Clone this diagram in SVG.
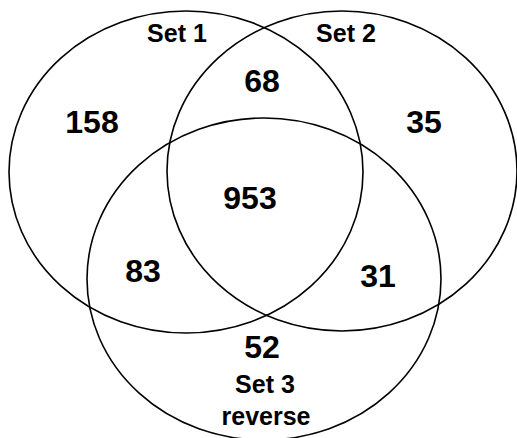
<svg xmlns="http://www.w3.org/2000/svg" width="517" height="438" viewBox="0 0 517 438">
<style>
.set{fill:none;stroke:#000;stroke-width:1.6}
.num{font-family:"Liberation Sans",Arial,sans-serif;font-weight:bold;font-size:32px;fill:#000;text-anchor:middle}
.lbl{font-family:"Liberation Sans",Arial,sans-serif;font-weight:bold;font-size:25px;fill:#000;text-anchor:middle}
</style>
<rect width="517" height="438" fill="#fff"/>
<g id="set1"><ellipse class="set" cx="186" cy="172" rx="177" ry="161"/><text class="lbl" x="177" y="42">Set 1</text></g>
<g id="set2"><ellipse class="set" cx="342" cy="171" rx="175" ry="160"/><text class="lbl" x="346" y="42">Set 2</text></g>
<g id="set3"><ellipse class="set" cx="264" cy="279" rx="177" ry="161"/><text class="lbl" x="265" y="393">Set 3</text><text class="lbl" x="266" y="425">reverse</text></g>
<g id="counts">
<text class="num" x="92" y="133">158</text>
<text class="num" x="262" y="92">68</text>
<text class="num" x="424" y="133">35</text>
<text class="num" x="250" y="209">953</text>
<text class="num" x="143" y="282">83</text>
<text class="num" x="378" y="287">31</text>
<text class="num" x="262" y="358">52</text>
</g>
</svg>
